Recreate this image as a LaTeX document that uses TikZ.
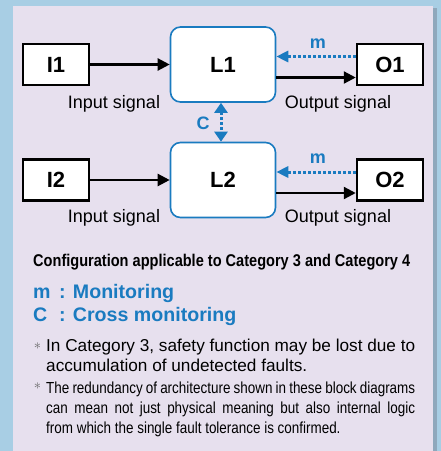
\documentclass[tikz,border=0pt]{standalone}
\usepackage{fontspec}
\setmainfont{Liberation Sans}
\newfontfamily\condfont[FakeStretch=0.84]{Liberation Sans}
\usetikzlibrary{arrows.meta}
\definecolor{outerblue}{HTML}{A8CEE4}
\definecolor{panel}{HTML}{E7E0EE}
\definecolor{panelshadow}{HTML}{8FA8BC}
\definecolor{monblue}{HTML}{1A7BC0}
\tikzset{
  blk/.style={draw=black, line width=2.5pt, fill=white, minimum width=66pt, minimum height=41pt, inner sep=0pt, font=\fontsize{22}{22}\selectfont\bfseries},
  logic/.style={draw=monblue, line width=1.6pt, rounded corners=10pt, fill=white, minimum width=105pt, minimum height=75pt, inner sep=0pt, font=\fontsize{22}{22}\selectfont\bfseries},
  sig/.style={line width=2.3pt, -{Triangle[length=12pt,width=12pt]}},
  mon/.style={draw=monblue, line width=3pt, dash pattern=on 3pt off 2pt, -{Triangle[length=12pt,width=11pt,fill=monblue]}},
  cross/.style={draw=monblue, line width=3pt, dash pattern=on 3pt off 2pt, {Triangle[length=10pt,width=13pt,fill=monblue]}-{Triangle[length=10pt,width=13pt,fill=monblue]}},
  siglabel/.style={anchor=base, inner sep=0pt, font=\fontsize{18}{18}\selectfont},
  monlabel/.style={anchor=base, inner sep=0pt, text=monblue, font=\fontsize{18}{18}\selectfont\bfseries},
  txt/.style={anchor=base west, inner sep=0pt},
  staricon/.style={anchor=center, inner sep=0pt, text=black!60, font=\fontsize{14}{14}\selectfont},
}
\begin{document}
\begin{tikzpicture}[x=1pt,y=-1pt]
\useasboundingbox (0,0) rectangle (441,451);
\fill[outerblue] (0,0) rectangle (441,451);
\fill[panelshadow] (433,8) rectangle (437,451);
\fill[panel] (13,6) rectangle (433,451);

% top row
\node[blk] (I1) at (56,64.5) {I1};
\node[logic] (L1) at (223,64.5) {L1};
\node[blk] (O1) at (390,64.5) {O1};
% bottom row
\node[blk] (I2) at (56,180) {I2};
\node[logic] (L2) at (223,180) {L2};
\node[blk] (O2) at (390,180) {O2};

\draw[sig] (I1.east) -- (L1.west);
\draw[sig] ([yshift=-13pt]L1.east) -- ([yshift=-13pt]O1.west);
\draw[mon] ([yshift=8pt]O1.west) -- ([yshift=8pt]L1.east);
\draw[sig] (I2.east) -- (L2.west);
\draw[sig] ([yshift=-13pt]L2.east) -- ([yshift=-13pt]O2.west);
\draw[mon] ([yshift=8pt]O2.west) -- ([yshift=8pt]L2.east);
\draw[cross] ([xshift=-2pt]L1.south) -- ([xshift=-2pt]L2.north);

\node[monlabel] (m1) at (318,48) {m};
\node[monlabel] (m2) at (318,163) {m};
\node[monlabel] (c) at (203,129) {C};

\node[siglabel] (in1) at (114,108.3) {Input signal};
\node[siglabel] (out1) at (338,108.3) {Output signal};
\node[siglabel] (in2) at (114,222.7) {Input signal};
\node[siglabel] (out2) at (338,222.7) {Output signal};

% legend text
\node[txt] (cfg) at (33,266.7) {\resizebox{377pt}{\height}{\fontsize{17}{17}\selectfont\bfseries Configuration applicable to Category 3 and Category 4}};
\node[txt, text=monblue, font=\fontsize{19.6}{19.6}\selectfont\bfseries] (leg1) at (33,298.3) {\makebox[26pt][l]{m}: Monitoring};
\node[txt, text=monblue, font=\fontsize{19.6}{19.6}\selectfont\bfseries] (leg2) at (33,321) {\makebox[26pt][l]{C}: Cross monitoring};

\node[txt, font=\fontsize{17.2}{17.2}\selectfont] (n1a) at (46,351.7) {\makebox[369pt][s]{In Category 3, safety function may be lost due to}};
\node[txt, font=\fontsize{17.2}{17.2}\selectfont] (n1b) at (46,371.7) {accumulation of undetected faults.};
\node[txt, font=\fontsize{16}{16}\condfont] (n2a) at (46,393.3) {\makebox[369pt][s]{The redundancy of architecture shown in these block diagrams}};
\node[txt, font=\fontsize{16}{16}\condfont] (n2b) at (46,413.3) {\makebox[369pt][s]{can mean not just physical meaning but also internal logic}};
\node[txt, font=\fontsize{16}{16}\condfont] (n2c) at (46,433.3) {from which the single fault tolerance is confirmed.};

\node[staricon] (s1) at (37.5,346) {$\ast$};
\node[staricon] (s2) at (37.5,386) {$\ast$};
\end{tikzpicture}
\end{document}
